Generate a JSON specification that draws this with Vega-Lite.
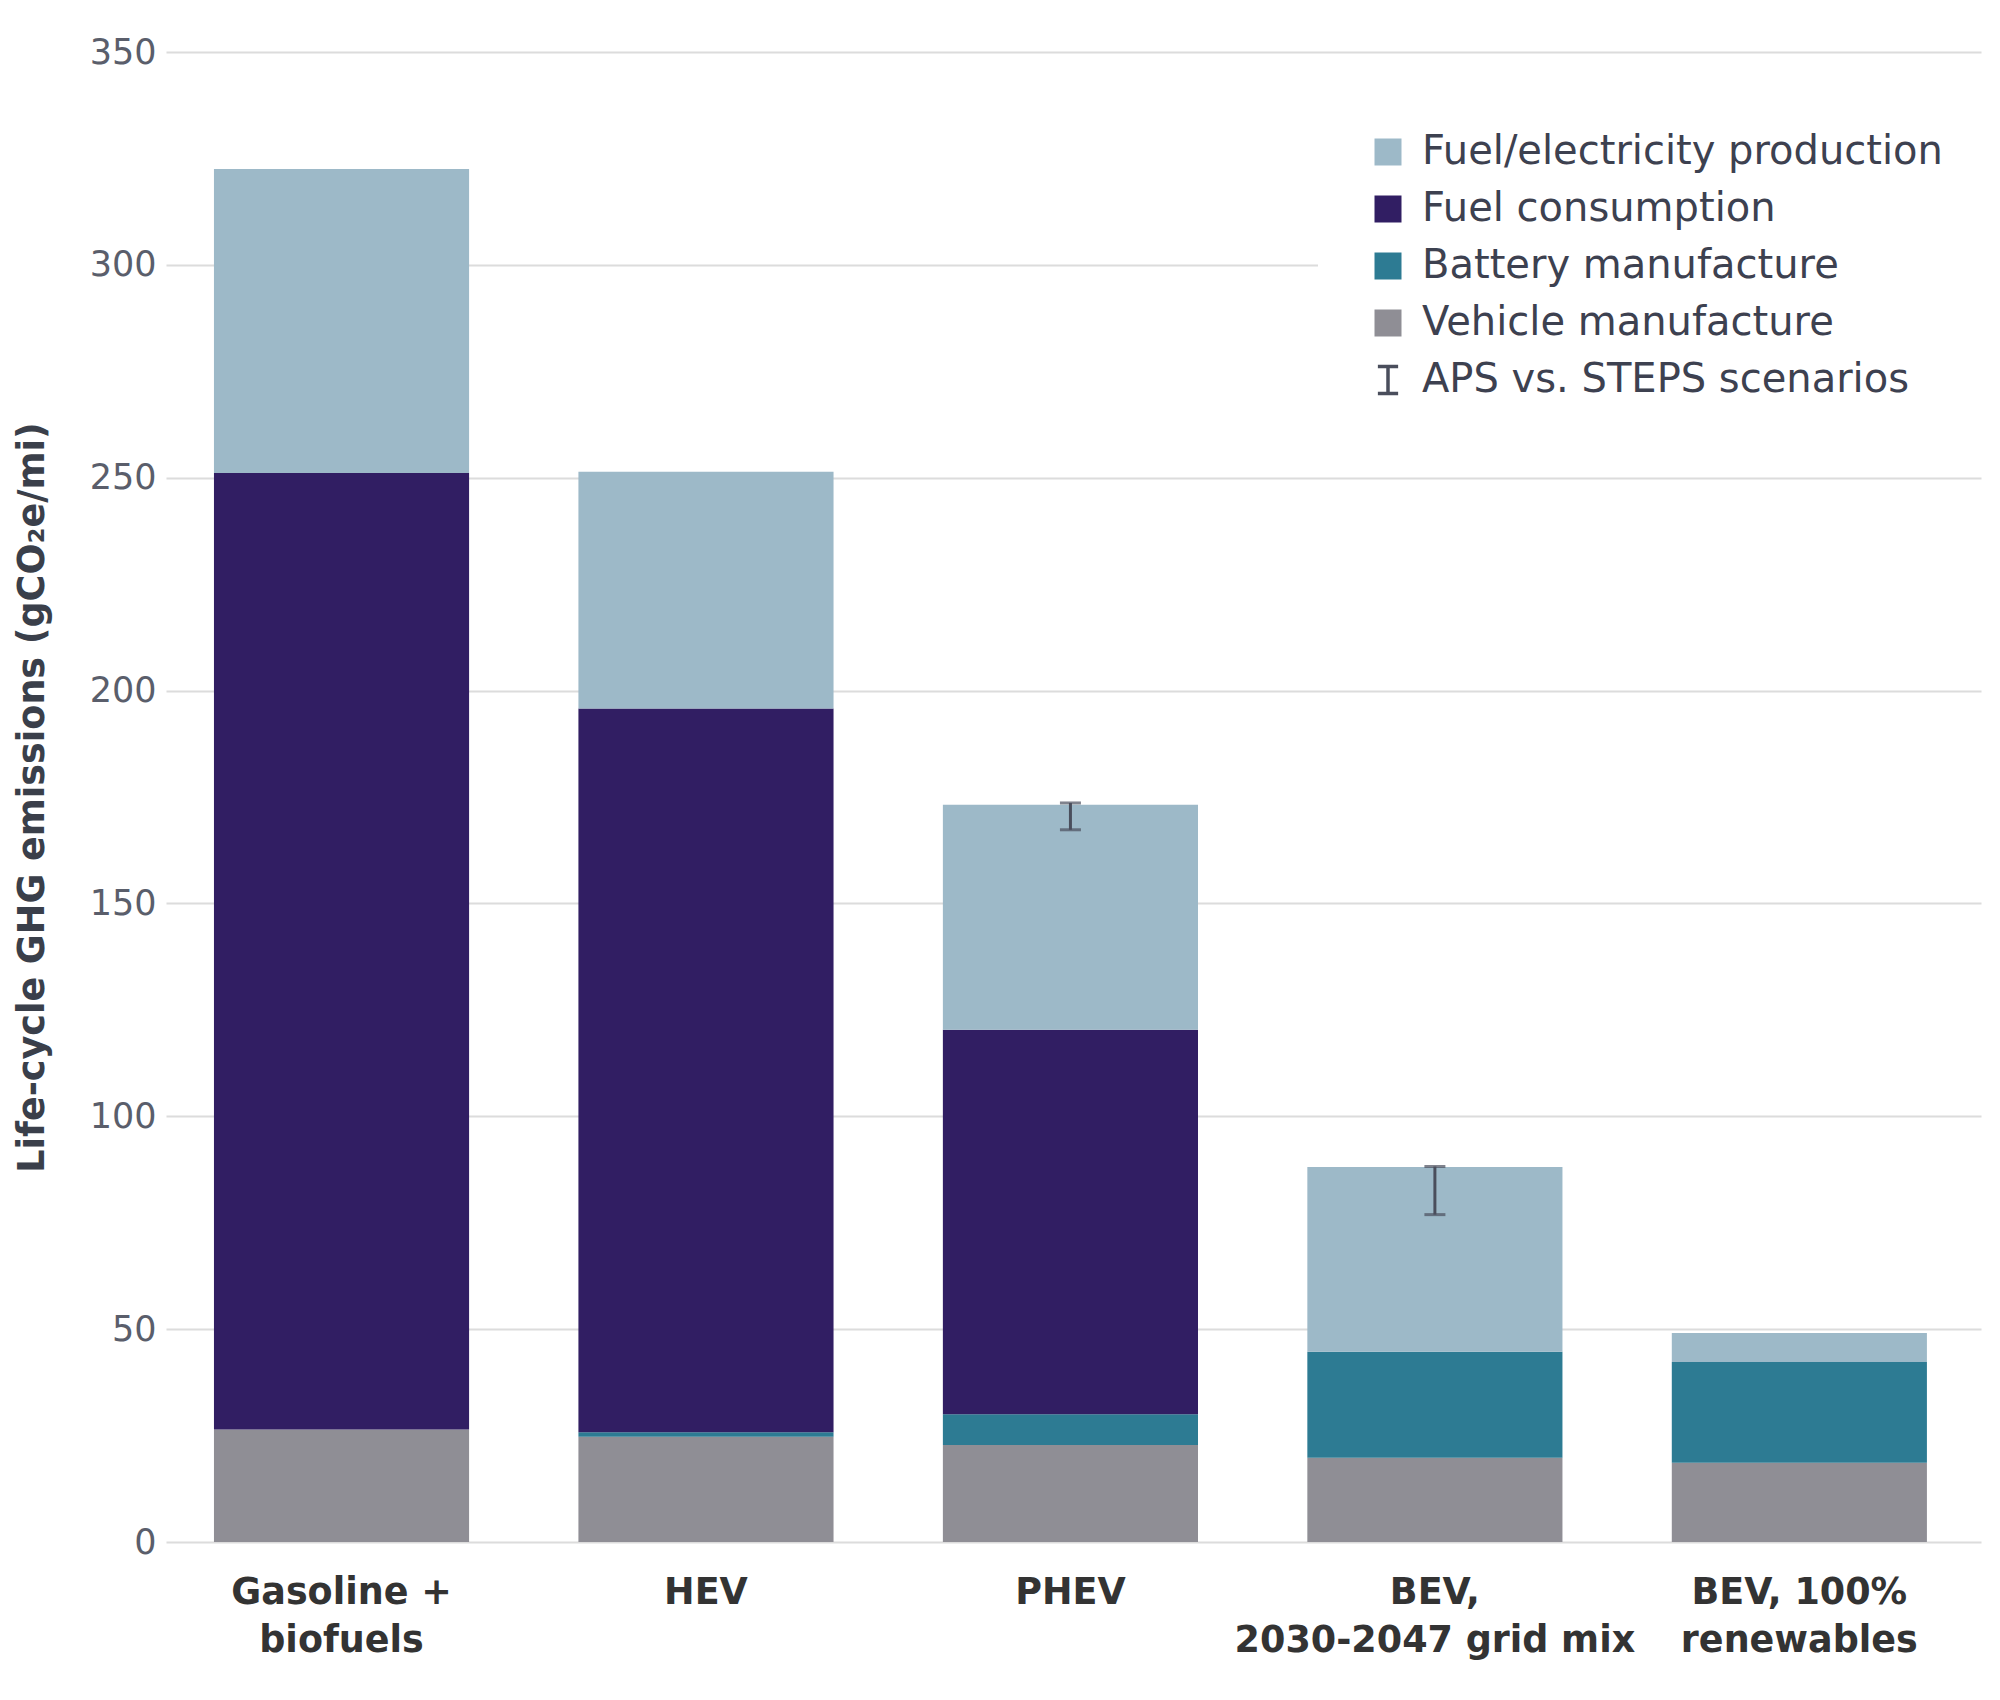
{
  "$schema": "https://vega.github.io/schema/vega-lite/v6.json",
  "width": 1815,
  "height": 1490,
  "autosize": {"type": "none"},
  "padding": {"left": 166, "top": 52, "right": 19, "bottom": 158},
  "background": "white",
  "config": {"view": {"stroke": null}, "font": "DejaVu Sans"},
  "datasets": {
    "bars": [
      {"vehicle": "Gasoline + biofuels", "component": "Vehicle manufacture", "value": 26.4},
      {"vehicle": "Gasoline + biofuels", "component": "Battery manufacture", "value": 0},
      {"vehicle": "Gasoline + biofuels", "component": "Fuel consumption", "value": 224.7},
      {"vehicle": "Gasoline + biofuels", "component": "Fuel/electricity production", "value": 71.4},
      {"vehicle": "HEV", "component": "Vehicle manufacture", "value": 24.7},
      {"vehicle": "HEV", "component": "Battery manufacture", "value": 1.1},
      {"vehicle": "HEV", "component": "Fuel consumption", "value": 170.0},
      {"vehicle": "HEV", "component": "Fuel/electricity production", "value": 55.6},
      {"vehicle": "PHEV", "component": "Vehicle manufacture", "value": 22.8},
      {"vehicle": "PHEV", "component": "Battery manufacture", "value": 7.2},
      {"vehicle": "PHEV", "component": "Fuel consumption", "value": 90.3},
      {"vehicle": "PHEV", "component": "Fuel/electricity production", "value": 52.9},
      {"vehicle": "BEV, 2030-2047 grid mix", "component": "Vehicle manufacture", "value": 19.8},
      {"vehicle": "BEV, 2030-2047 grid mix", "component": "Battery manufacture", "value": 24.9},
      {"vehicle": "BEV, 2030-2047 grid mix", "component": "Fuel consumption", "value": 0},
      {"vehicle": "BEV, 2030-2047 grid mix", "component": "Fuel/electricity production", "value": 43.4},
      {"vehicle": "BEV, 100% renewables", "component": "Vehicle manufacture", "value": 18.6},
      {"vehicle": "BEV, 100% renewables", "component": "Battery manufacture", "value": 23.7},
      {"vehicle": "BEV, 100% renewables", "component": "Fuel consumption", "value": 0},
      {"vehicle": "BEV, 100% renewables", "component": "Fuel/electricity production", "value": 6.8}
    ],
    "errors": [
      {"vehicle": "PHEV", "low": 167.3, "high": 173.6},
      {"vehicle": "BEV, 2030-2047 grid mix", "low": 76.9, "high": 88.2}
    ]
  },
  "layer": [
    {
      "data": {"name": "bars"},
      "transform": [
        {"calculate": "indexof(['Vehicle manufacture','Battery manufacture','Fuel consumption','Fuel/electricity production'], datum.component)", "as": "stackOrder"}
      ],
      "mark": {"type": "bar"},
      "encoding": {
        "x": {
          "field": "vehicle", "type": "nominal",
          "scale": {"domain": ["Gasoline + biofuels", "HEV", "PHEV", "BEV, 2030-2047 grid mix", "BEV, 100% renewables"], "paddingInner": 0.3, "paddingOuter": 0.14, "align": 0.47},
          "axis": {
            "title": null, "labelAngle": 0, "ticks": false, "domain": false,
            "labelFontSize": 36.5, "labelFontWeight": "bold", "labelColor": "#333333",
            "labelPadding": 32, "labelLineHeight": 48, "labelBaseline": "top", "labelLimit": 600,
            "labelExpr": "datum.value == 'Gasoline + biofuels' ? ['Gasoline +', 'biofuels'] : datum.value == 'BEV, 2030-2047 grid mix' ? ['BEV,', '2030-2047 grid mix'] : datum.value == 'BEV, 100% renewables' ? ['BEV, 100%', 'renewables'] : datum.value"
          }
        },
        "y": {
          "field": "value", "type": "quantitative", "stack": "zero",
          "scale": {"domain": [0, 350], "nice": false},
          "axis": {
            "title": "Life-cycle GHG emissions (gCO₂e/mi)",
            "titleFontSize": 36.5, "titleFontWeight": "bold", "titleColor": "#3a3f4a", "titlePadding": 38,
            "values": [0, 50, 100, 150, 200, 250, 300, 350],
            "labelFontSize": 35, "labelColor": "#5a5e6b", "labelPadding": 10,
            "ticks": false, "domain": false,
            "grid": true, "gridColor": "#dcdcdc", "gridWidth": 2
          }
        },
        "color": {
          "field": "component", "type": "nominal",
          "scale": {
            "domain": ["Fuel/electricity production", "Fuel consumption", "Battery manufacture", "Vehicle manufacture", "APS vs. STEPS scenarios"],
            "range": ["#9db9c8", "#311e63", "#2d7b93", "#8f8e95", "#4a4e5c"]
          },
          "legend": {
            "title": null, "orient": "none", "legendX": 1152, "legendY": 30,
            "fillColor": "white", "padding": 50,
            "symbolSize": 729, "symbolType": "square", "symbolStrokeWidth": 0,
            "labelFontSize": 40, "labelColor": "#3d4150", "labelOffset": 14, "labelLimit": 900,
            "rowPadding": 15,
            "encode": {
              "symbols": {
                "update": {
                  "shape": {"signal": "datum.value === 'APS vs. STEPS scenarios' ? 'M-0.75,-1H0.75M0,-1V1M-0.75,1H0.75' : 'square'"},
                  "fill": {"signal": "datum.value === 'APS vs. STEPS scenarios' ? 'transparent' : scale('color', datum.value)"},
                  "stroke": {"signal": "datum.value === 'APS vs. STEPS scenarios' ? '#4a4e5c' : 'transparent'"},
                  "strokeWidth": {"value": 3.5},
                  "opacity": {"value": 1}
                }
              }
            }
          }
        },
        "order": {"field": "stackOrder", "type": "quantitative"}
      }
    },
    {
      "data": {"name": "errors"},
      "mark": {"type": "errorbar", "ticks": {"size": 21, "thickness": 3, "color": "#4a4e5c"}, "thickness": 3, "color": "#4a4e5c"},
      "encoding": {
        "x": {"field": "vehicle", "type": "nominal"},
        "y": {"field": "low", "type": "quantitative", "title": "Life-cycle GHG emissions (gCO₂e/mi)"},
        "y2": {"field": "high"}
      }
    }
  ]
}
